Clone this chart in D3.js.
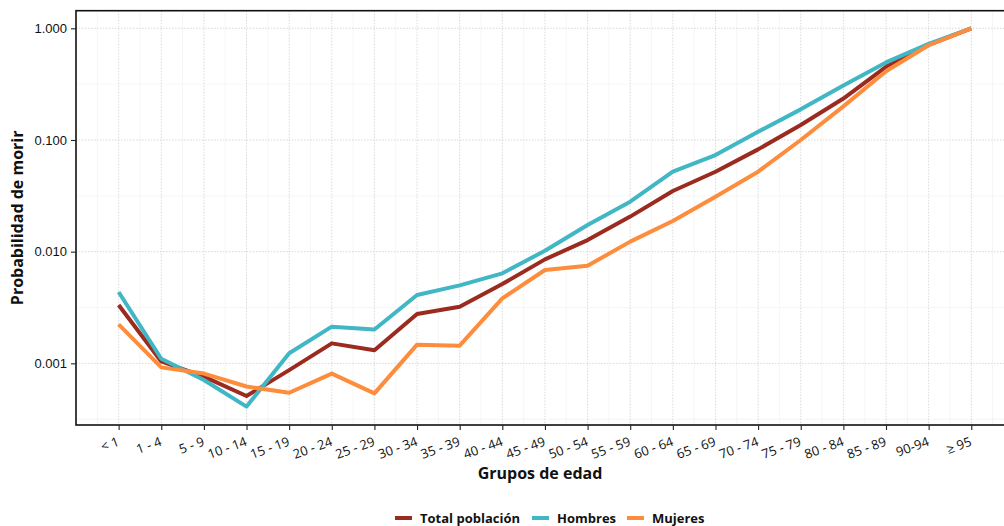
<!DOCTYPE html>
<html><head><meta charset="utf-8">
<script src="https://cdn.jsdelivr.net/npm/d3@7"></script>
<style>body{margin:0;background:#fff}svg{display:block}</style>
</head><body>
<svg id="c" width="1004" height="526"></svg>
<script>
const categories = ["< 1","1 - 4","5 - 9","10 - 14","15 - 19","20 - 24","25 - 29","30 - 34","35 - 39","40 - 44","45 - 49","50 - 54","55 - 59","60 - 64","65 - 69","70 - 74","75 - 79","80 - 84","85 - 89","90-94","≥ 95"];
const total   = [0.00333,0.00104,0.00076,0.00051,0.00087,0.00151,0.00131,0.00277,0.00321,0.00513,0.00853,0.0127,0.0206,0.0349,0.052,0.0824,0.136,0.235,0.452,0.71,1.0];
const hombres = [0.00435,0.00110,0.00071,0.00041,0.00123,0.00213,0.00201,0.00409,0.00499,0.0064,0.0102,0.0173,0.028,0.052,0.0733,0.1186,0.188,0.308,0.495,0.725,1.0];
const mujeres = [0.00223,0.00092,0.00081,0.00062,0.000546,0.00081,0.000539,0.00147,0.00144,0.00382,0.00685,0.00748,0.0123,0.0188,0.031,0.052,0.100,0.20,0.412,0.705,1.0];
const seriesNames = ["Total población","Hombres","Mujeres"];
const seriesColors = ["#9B2A1F","#41B6C4","#FD8D3C"];
const yTicks = [0.001,0.01,0.1,1];
const yTickLabels = ["0.001","0.010","0.100","1.000"];
const xTitle = "Grupos de edad";
const yTitle = "Probabilidad de morir";

const svg = d3.select("#c");
const L = 76, T = 10.7, R = 1013.9, B = 425;
const x = d3.scalePoint().domain(categories).range([L, R]).padding(1);
const y = d3.scaleLog().domain([Math.pow(10,-3.552), Math.pow(10,0.1576)]).range([B, T]);

const g = svg.append("g");
// minor grid
const step = x.step();
categories.forEach((c,i)=>{
  g.append("line").attr("x1",x(c)-step/2).attr("x2",x(c)-step/2).attr("y1",T).attr("y2",B)
   .attr("stroke","#f0f0f0").attr("stroke-width",0.6);
});
g.append("line").attr("x1",x(categories[categories.length-1])+step/2).attr("x2",x(categories[categories.length-1])+step/2).attr("y1",T).attr("y2",B).attr("stroke","#f0f0f0").attr("stroke-width",0.6);
[-3.5,-2.5,-1.5,-0.5].forEach(e=>{
  const v = Math.pow(10,e);
  g.append("line").attr("x1",L).attr("x2",R).attr("y1",y(v)).attr("y2",y(v)).attr("stroke","#f0f0f0").attr("stroke-width",0.6);
});
// major grid
categories.forEach(c=>{
  g.append("line").attr("x1",x(c)).attr("x2",x(c)).attr("y1",T).attr("y2",B)
   .attr("stroke","#cfcfcf").attr("stroke-width",0.8).attr("stroke-dasharray","1.5,1.5");
});
yTicks.forEach(v=>{
  g.append("line").attr("x1",L).attr("x2",R).attr("y1",y(v)).attr("y2",y(v))
   .attr("stroke","#cfcfcf").attr("stroke-width",0.8).attr("stroke-dasharray","1.5,1.5");
});

// lines
const data = [total, hombres, mujeres];
const line = d3.line().x((d,i)=>x(categories[i])).y(d=>y(d));
data.forEach((s,k)=>{
  svg.append("path").datum(s).attr("d",line).attr("fill","none")
    .attr("stroke",seriesColors[k]).attr("stroke-width",4).attr("stroke-linejoin","round");
});

// panel border
svg.append("rect").attr("x",L).attr("y",T).attr("width",R-L).attr("height",B-T)
  .attr("fill","none").attr("stroke","#111").attr("stroke-width",1.6);

// y axis
const yAxis = d3.axisLeft(y).tickValues(yTicks).tickFormat((d,i)=>yTickLabels[i]).tickSize(5).tickPadding(4);
const ya = svg.append("g").attr("transform",`translate(${L},0)`).call(yAxis);
ya.select(".domain").remove();
ya.selectAll(".tick line").attr("stroke","#222").attr("stroke-width",1.1);
ya.selectAll(".tick text").attr("font-family","Liberation Sans, Arial, sans-serif").attr("font-size",13).attr("fill","#111");

// x axis
const xAxis = d3.axisBottom(x).tickSize(5).tickFormat("");
const xa = svg.append("g").attr("transform",`translate(0,${B})`).call(xAxis);
xa.select(".domain").remove();
xa.selectAll(".tick line").attr("stroke","#222").attr("stroke-width",1.1);
categories.forEach(c=>{
  svg.append("text").attr("transform",`translate(${x(c)-2},${B+11}) rotate(-20)`)
    .attr("text-anchor","end").attr("dy","0.75em")
    .attr("font-family","Open Sans, sans-serif").attr("font-size",13).attr("fill","#111").text(c);
});

// titles
svg.append("text").attr("x",540).attr("y",479).attr("text-anchor","middle")
  .attr("font-family","Open Sans, sans-serif").attr("font-weight","bold").attr("font-size",16).attr("fill","#111").text(xTitle);
svg.append("text").attr("transform",`translate(23,${(T+B)/2}) rotate(-90)`).attr("text-anchor","middle")
  .attr("font-family","Open Sans, sans-serif").attr("font-weight","bold").attr("font-size",16).attr("fill","#111").text(yTitle);

// legend
const legX = [395, 532, 627];
seriesNames.forEach((n,k)=>{
  svg.append("line").attr("x1",legX[k]).attr("x2",legX[k]+17).attr("y1",518).attr("y2",518)
    .attr("stroke",seriesColors[k]).attr("stroke-width",4);
  svg.append("text").attr("x",legX[k]+25).attr("y",523).attr("font-family","Open Sans, sans-serif")
    .attr("font-weight","bold").attr("font-size",13).attr("fill","#111").text(n);
});
</script>
</body></html>
